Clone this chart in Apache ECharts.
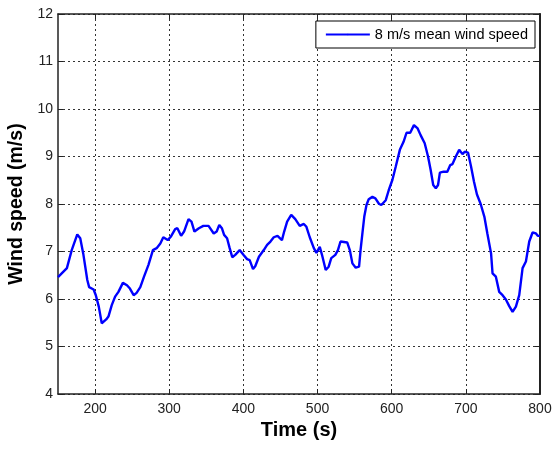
<!DOCTYPE html>
<html>
<head>
<meta charset="utf-8">
<script src="https://cdn.jsdelivr.net/npm/echarts@6/dist/echarts.min.js"></script>
<style>html,body{margin:0;padding:0;background:#fff;}#c{width:555px;height:450px;}</style>
</head>
<body>
<div id="c"></div>
<script>
const time = [
  150, 162, 168.5, 176, 180, 184, 189.5, 192, 198, 201,
  205, 209, 215, 218, 222.5, 227, 231.5, 237.5, 243, 247,
  252, 256, 261, 266, 272, 278, 283, 288, 292, 298,
  302, 308, 311, 316, 320, 326, 330, 334, 340, 346,
  353, 360, 364, 367.5, 371, 374, 378, 381.5, 385, 389,
  395, 400, 405, 408.5, 413, 416, 421, 427.5, 432, 436.5,
  441, 446, 452, 455, 459, 464.5, 470, 476, 481.5, 485,
  489.5, 495, 498.5, 503, 506, 511, 515, 518.5, 524, 527.5,
  531, 540, 543.5, 547, 551.5, 556, 558, 560.5, 563, 566,
  569, 574, 578, 583, 586, 592, 596, 601, 605.5, 611,
  616, 620, 625, 630, 635, 639, 644.5, 649, 652.5, 656,
  659.5, 662.5, 665, 670, 675, 679, 682, 686.5, 691, 695.5,
  698.5, 703, 707, 711, 715, 720, 725, 729, 734, 736,
  740.5, 745, 749.5, 754, 758.5, 763, 767.5, 772, 776.5, 781,
  785.5, 790, 794.5, 797, 800
];
const speed = [
  6.46, 6.65, 7.03, 7.36, 7.28, 6.96, 6.40, 6.25, 6.20, 6.08,
  5.84, 5.49, 5.57, 5.63, 5.87, 6.05, 6.15, 6.34, 6.29, 6.22,
  6.08, 6.13, 6.25, 6.47, 6.72, 7.03, 7.07, 7.17, 7.30, 7.24,
  7.31, 7.47, 7.49, 7.33, 7.42, 7.68, 7.63, 7.42, 7.49, 7.54,
  7.54, 7.38, 7.42, 7.56, 7.49, 7.35, 7.28, 7.07, 6.88, 6.93,
  7.03, 6.93, 6.84, 6.82, 6.63, 6.69, 6.89, 7.03, 7.14, 7.21,
  7.30, 7.33, 7.24, 7.42, 7.63, 7.77, 7.68, 7.54, 7.58, 7.52,
  7.30, 7.07, 6.97, 7.10, 6.93, 6.61, 6.68, 6.86, 6.93, 7.03,
  7.21, 7.19, 7.03, 6.75, 6.66, 6.68, 7.03, 7.38, 7.73, 7.98,
  8.10, 8.15, 8.12, 8.00, 7.98, 8.08, 8.29, 8.51, 8.79, 9.14,
  9.31, 9.50, 9.50, 9.66, 9.59, 9.45, 9.28, 9.00, 8.72, 8.40,
  8.33, 8.40, 8.66, 8.68, 8.68, 8.82, 8.84, 9.00, 9.14, 9.05,
  9.10, 9.08, 8.79, 8.47, 8.20, 8.00, 7.73, 7.38, 6.96, 6.54,
  6.47, 6.15, 6.08, 5.99, 5.85, 5.73, 5.84, 6.08, 6.65, 6.79,
  7.21, 7.40, 7.38, 7.33, 7.33
];
const xTicks = [200, 300, 400, 500, 600, 700, 800];
const seriesName = '8 m/s mean wind speed';

const font = 'Liberation Sans, Arial, sans-serif';
const chart = echarts.init(document.getElementById('c'), null, {renderer: 'canvas'});
const lineStyleAxis = {color: '#222', width: 1.5};
const gridLine = {show: true, lineStyle: {color: '#333', type: [2, 3], width: 1}};
chart.setOption({
  animation: false,
  backgroundColor: '#fff',
  grid: {left: 58, right: 15, top: 14, bottom: 56, containLabel: false, outerBoundsMode: 'none'},
  legend: {
    data: [seriesName],
    top: 21, right: 20,
    padding: [6, 7, 6, 9],
    itemGap: 5,
    itemWidth: 44, itemHeight: 2,
    borderColor: '#000', borderWidth: 1, borderRadius: 0,
    backgroundColor: '#fff',
    textStyle: {fontFamily: font, fontSize: 14.5, color: '#000'}
  },
  xAxis: [{
    type: 'value', min: 150, max: 800, position: 'bottom',
    name: 'Time (s)', nameLocation: 'middle', nameGap: 25,
    nameTextStyle: {fontFamily: font, fontSize: 20, fontWeight: 'bold', color: '#000'},
    axisLine: {show: true, onZero: false, lineStyle: lineStyleAxis},
    axisTick: {show: true, inside: true, length: 5, customValues: xTicks, lineStyle: {color: '#222'}},
    axisLabel: {customValues: xTicks, margin: 8, fontFamily: font, fontSize: 14, color: '#222'},
    splitLine: gridLine
  }, {
    type: 'value', min: 150, max: 800, position: 'top',
    axisLine: {show: true, onZero: false, lineStyle: lineStyleAxis},
    axisTick: {show: true, inside: true, length: 5, customValues: xTicks, lineStyle: {color: '#222'}},
    axisLabel: {show: false},
    splitLine: {show: false}
  }],
  yAxis: [{
    type: 'value', min: 4, max: 12, interval: 1, position: 'left',
    name: 'Wind speed (m/s)', nameLocation: 'middle', nameGap: 29,
    nameTextStyle: {fontFamily: font, fontSize: 19.5, fontWeight: 'bold', color: '#000'},
    axisLine: {show: true, onZero: false, lineStyle: lineStyleAxis},
    axisTick: {show: true, inside: true, length: 5, lineStyle: {color: '#222'}},
    axisLabel: {margin: 5, fontFamily: font, fontSize: 14, color: '#222'},
    splitLine: gridLine
  }, {
    type: 'value', min: 4, max: 12, interval: 1, position: 'right',
    axisLine: {show: true, onZero: false, lineStyle: {color: '#222', width: 2}},
    axisTick: {show: true, inside: true, length: 5, lineStyle: {color: '#222'}},
    axisLabel: {show: false},
    splitLine: {show: false}
  }],
  series: [{
    name: seriesName,
    type: 'line',
    xAxisIndex: 0, yAxisIndex: 0,
    data: time.map((t, i) => [t, speed[i]]),
    symbol: 'none',
    smooth: false,
    lineStyle: {color: '#0000ff', width: 2.4},
    itemStyle: {color: '#0000ff'}
  }]
});
</script>
</body>
</html>
